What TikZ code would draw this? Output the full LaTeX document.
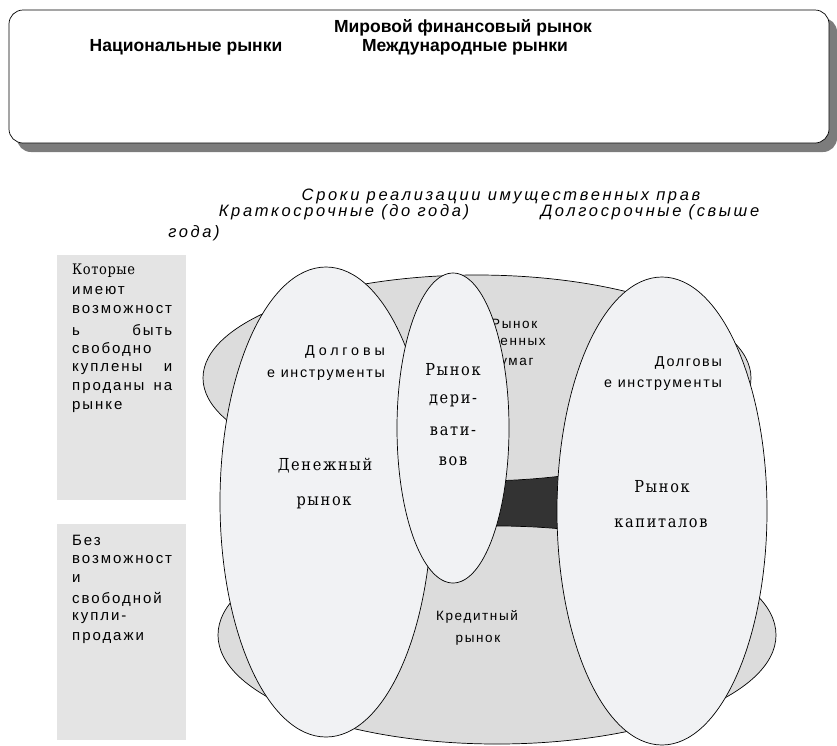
\documentclass[tikz,border=0pt]{standalone}
\usepackage{fontspec}
\usetikzlibrary{shapes.geometric}
\setmainfont{Liberation Sans}
\newfontfamily\headfont{Liberation Sans}
\newfontfamily\termfont[LetterSpace=16]{Liberation Sans}
\newfontfamily\plainsans[LetterSpace=12]{Liberation Sans}
\newfontfamily\widesans[LetterSpace=27]{Liberation Sans}
\newfontfamily\notesans[LetterSpace=13]{Liberation Sans}
\newfontfamily\slabfont[LetterSpace=10, FakeStretch=0.88]{DejaVu Serif}
\newfontfamily\noteserif[LetterSpace=4, FakeStretch=0.9]{DejaVu Serif}
\definecolor{shadowgray}{HTML}{7C7C7C}
\definecolor{layergray}{HTML}{DCDCDC}
\definecolor{marketfill}{HTML}{F1F2F4}
\definecolor{bandfill}{HTML}{333333}
\definecolor{notegray}{HTML}{E4E4E4}
\tikzset{
  outline/.style={draw=black, line width=0.7pt},
  market/.style={outline, fill=marketfill, ellipse, inner sep=0pt},
  layer/.style={outline, fill=layergray, ellipse, inner sep=0pt},
  notebox/.style={fill=notegray, inner sep=0pt, anchor=north west},
  headtext/.style={font=\headfont\bfseries\fontsize{17.5}{20}\selectfont, inner sep=0pt},
  termtext/.style={font=\termfont\itshape\fontsize{16.5}{20}\selectfont, inner sep=0pt},
  plaintext/.style={font=\plainsans\fontsize{13.5}{16}\selectfont, inner sep=0pt},
  debttext/.style={font=\plainsans\fontsize{14.3}{17}\selectfont, inner sep=0pt, anchor=east},
  slabtext/.style={font=\slabfont\fontsize{16.5}{20}\selectfont, inner sep=0pt},
  noteline/.style={font=\notesans\fontsize{15}{18}\selectfont, inner sep=0pt, anchor=west},
}
\begin{document}
\begin{tikzpicture}[x=1pt, y=-1pt]
\useasboundingbox (0,0) rectangle (837,745);

% world market frame with drop shadow
\fill[shadowgray, rounded corners=14pt] (17,18) rectangle (837,152);
\draw[outline, fill=white, rounded corners=14pt] (9,10) rectangle (829,143);
\node[headtext] (world) at (463,28) {Мировой финансовый рынок};
\node[headtext] (national) at (186,47) {Национальные рынки};
\node[headtext] (intl) at (465,47) {Международные рынки};

% terms of realisation
\node[termtext] (terms) at (501,196) {Сроки реализации имущественных прав};
\node[termtext] (short) at (344,212) {Краткосрочные (до года)};
\node[termtext] (long) at (650,212) {Долгосрочные (свыше};
\node[termtext] (longend) at (194,233) {года)};

% side notes
\node[notebox, minimum width=129, minimum height=245] (tradable) at (57,255) {};
\node[noteline, font=\noteserif\fontsize{14.5}{18}\selectfont] (t1) at (72,271) {Которые};
\node[noteline] (t2) at (72,291) {имеют};
\node[noteline] (t3) at (72,310) {возможност};
\node[noteline] (t4) at (72,330) {\makebox[100pt][s]{ь быть}};
\node[noteline] (t5) at (72,349) {свободно};
\node[noteline] (t6) at (72,369) {\makebox[100pt][s]{куплены и}};
\node[noteline] (t7) at (72,388) {\makebox[100pt][s]{проданы на}};
\node[noteline] (t8) at (72,407) {рынке};

\node[notebox, minimum width=129, minimum height=216] (nontradable) at (57,524) {};
\node[noteline] (n1) at (72,540) {Без};
\node[noteline] (n2) at (72,560) {возможност};
\node[noteline] (n3) at (72,579) {и};
\node[noteline] (n4) at (72,599) {свободной};
\node[noteline] (n5) at (72,618) {купли-};
\node[noteline] (n6) at (72,638) {продажи};

% dark strip seen between the layers
\fill[bandfill] (480,468) rectangle (572,538);

% securities market and credit market layers
\node[layer, minimum width=548, minimum height=206] (securities) at (477,378) {};
\node[layer, minimum width=558, minimum height=218] (credit) at (497,635) {};
\node[plaintext, anchor=west] (sec1) at (491,324) {Рынок};
\node[plaintext, anchor=west] (sec2) at (491,343) {ценных};
\node[plaintext, anchor=west] (sec3) at (491,362) {бумаг};
\node[plaintext] (cred1) at (477,617) {Кредитный};
\node[plaintext] (cred2) at (478,640) {рынок};

% money market
\node[market, minimum width=212, minimum height=470] (money) at (326,502) {};
\node[debttext, font=\widesans\fontsize{14.3}{17}\selectfont] (mdebt1) at (385,352) {Долговы};
\node[debttext] (mdebt2) at (385,375) {е инструменты};
\node[slabtext] (money1) at (325,466) {Денежный};
\node[slabtext] (money2) at (324,503) {рынок};

% derivatives market
\node[market, minimum width=112, minimum height=310] (deriv) at (453,428) {};
\node[slabtext] (d1) at (453,370) {Рынок};
\node[slabtext] (d2) at (453,401) {дери-};
\node[slabtext] (d3) at (453,431) {вати-};
\node[slabtext] (d4) at (453,461) {вов};

% capital market
\node[market, minimum width=210, minimum height=468] (capital) at (662,511) {};
\node[debttext] (cdebt1) at (722,363) {Долговы};
\node[debttext] (cdebt2) at (722,385) {е инструменты};
\node[slabtext] (cap1) at (662,487) {Рынок};
\node[slabtext] (cap2) at (661,523) {капиталов};
\end{tikzpicture}
\end{document}
